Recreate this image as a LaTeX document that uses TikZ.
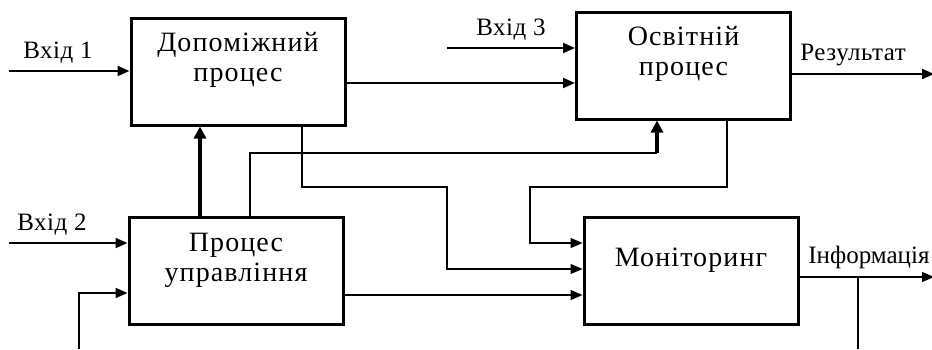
\documentclass[tikz,border=0pt]{standalone}
\usepackage{fontspec}
\setmainfont{Liberation Serif}
\usetikzlibrary{positioning, arrows.meta}

\begin{document}
\begin{tikzpicture}[x=0.5pt, y=-0.5pt,
    procbox/.style={draw, line width=1.5pt, minimum width=107pt,
                    minimum height=53.5pt, inner sep=0pt},
    proctext/.style={font=\fontsize{14}{15}\selectfont\addfontfeature{LetterSpace=4},
                     align=center, yshift=6pt},
    flowlbl/.style={font=\fontsize{12.5}{14}\selectfont\addfontfeature{LetterSpace=2},
                    anchor=base west, inner sep=0pt},
    inarr/.style={line width=1pt, -{Triangle[length=6pt, width=5pt]}},
    thinarr/.style={line width=0.6pt, -{Triangle[length=6pt, width=5pt]}},
    thinline/.style={line width=0.6pt},
    bigarr/.style={line width=1.6pt, -{Triangle[length=6pt, width=6pt]}}]
    \useasboundingbox (0,0) rectangle (932,349);

    % process blocks
    \node[procbox] (aux)  at (238,71.5)   {};
    \node[procbox] (edu)  at (683.5,65.5) {};
    \node[procbox] (ctrl) at (236,270.5)  {};
    \node[procbox] (mon)  at (691,270.5)  {};
    \node[proctext] (auxtxt)  at (aux.center)  {Допоміжний\\процес};
    \node[proctext] (edutxt)  at (edu.center)  {Освітній\\процес};
    \node[proctext, yshift=-1pt] (ctrltxt) at (ctrl.center) {Процес\\управління};
    \node[proctext, yshift=-1pt] (montxt) at (mon.center) {Моніторинг};

    % free ends
    \coordinate (in1) at (9,71);
    \coordinate (in2) at (9,243);
    \coordinate (in3) at (447,48);
    \coordinate (ext) at (79,349);
    \coordinate (res) at (934,74);
    \coordinate (info) at (934,277);
    \coordinate (edufb) at (657,153);
    \coordinate (tap) at (858,349);

    % labels
    \node[flowlbl] (lin1) at (23,58)   {Вхід 1};
    \node[flowlbl] (lin2) at (17,230)  {Вхід 2};
    \node[flowlbl] (lin3) at (476,35)  {Вхід 3};
    \node[flowlbl] (lres) at (800,60)  {Результат};
    \node[flowlbl, font=\fontsize{12.5}{14}\selectfont] (linf) at (808,263) {Інформація};

    % inputs and outputs
    \draw[inarr] (in1) -- (in1 -| aux.west);
    \draw[inarr] (in2) -- (in2 -| ctrl.west);
    \draw[inarr] (ext) |- (ctrl.west |- 0,293);
    \draw[inarr] (in3) -- (in3 -| edu.west);
    \draw[inarr] (aux.east |- 0,83) -- (edu.west |- 0,83);
    \draw[inarr] (edu.east |- res) -- (res);

    % control links
    \draw[bigarr] (ctrl.north -| 200,0) -- (aux.south -| 200,0);
    \draw[thinline] (ctrl.north -| 250,0) |- (edufb);
    \draw[bigarr] (edufb) -- (edu.south -| edufb);

    % monitoring links
    \draw[thinarr] (aux.south -| 302,0) |- (447,187) |- (mon.west |- 0,269);
    \draw[thinarr, line width=0.8pt] (edu.south -| 727,0) |- (530,187) |- (mon.west |- 0,243);
    \draw[thinarr, line width=0.8pt] (ctrl.east |- 0,295) -- (mon.west |- 0,295);
    \draw[thinarr] (mon.east |- info) -- (info);
    \draw[thinline] (tap |- info) -- (tap);
\end{tikzpicture}
\end{document}
